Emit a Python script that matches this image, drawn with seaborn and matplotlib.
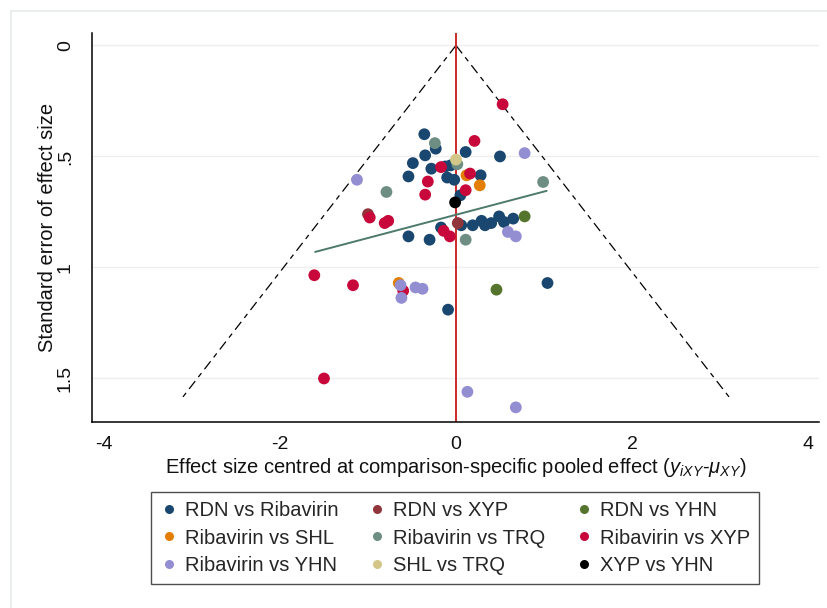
import numpy as np
import pandas as pd
import seaborn as sns
import matplotlib
matplotlib.use("Agg")
import matplotlib.pyplot as plt
from matplotlib.lines import Line2D

# ---------------- data ----------------
comparisons = ["RDN vs Ribavirin", "RDN vs XYP", "RDN vs YHN",
               "Ribavirin vs SHL", "Ribavirin vs TRQ", "Ribavirin vs XYP",
               "Ribavirin vs YHN", "SHL vs TRQ", "XYP vs YHN"]

colors = ["#1a476f", "#90353b", "#55752f", "#e37e00", "#6e8e84",
          "#c8073a", "#938dd2", "#d2c788", "#000000"]

rdn_rib_x = [-0.36, -0.23, -0.35, 0.11, 0.50, -0.49, -0.28, -0.12, -0.06, -0.54,
             -0.10, -0.02, 0.28, 0.05, -0.54, -0.30, -0.17, 0.06, 0.19, 0.29,
             0.33, 0.40, 0.49, 0.545, 0.65, -0.09, 1.04]
rdn_rib_y = [0.40, 0.465, 0.495, 0.48, 0.50, 0.53, 0.555, 0.545, 0.54, 0.59,
             0.595, 0.605, 0.585, 0.675, 0.86, 0.875, 0.82, 0.81, 0.81, 0.79,
             0.81, 0.80, 0.77, 0.795, 0.78, 1.19, 1.07]

rdn_xyp_x = [0.02, -1.0]
rdn_xyp_y = [0.80, 0.76]

rdn_yhn_x = [0.78, 0.46]
rdn_yhn_y = [0.77, 1.10]

rib_shl_x = [0.12, 0.27, -0.65]
rib_shl_y = [0.585, 0.63, 1.07]

rib_trq_x = [-0.24, 0.015, 0.99, -0.79, 0.11]
rib_trq_y = [0.44, 0.535, 0.615, 0.66, 0.875]

rib_xyp_x = [0.53, 0.21, -0.17, -0.32, 0.16, -0.35, 0.11, -0.98, -0.81, -0.77,
             -0.14, -0.07, -1.61, -1.17, -0.60, -1.50]
rib_xyp_y = [0.265, 0.43, 0.548, 0.613, 0.577, 0.672, 0.652, 0.775, 0.80, 0.79,
             0.835, 0.86, 1.035, 1.08, 1.105, 1.50]

rib_yhn_x = [0.78, -1.125, 0.59, 0.68, -0.63, -0.62, -0.46, -0.38, 0.13, 0.68]
rib_yhn_y = [0.485, 0.605, 0.84, 0.86, 1.08, 1.137, 1.09, 1.096, 1.56, 1.63]

shl_trq_x = [0.0]
shl_trq_y = [0.514]

xyp_yhn_x = [-0.01]
xyp_yhn_y = [0.707]

# fitted line endpoints
reg_x = [-1.60, 1.03]
reg_y = [0.93, 0.655]

# funnel (pseudo 95% limits)
se_max = 1.6
z_crit = 1.96

xticks = [-4, -2, 0, 2, 4]
yticks = [0, 0.5, 1, 1.5]
ytick_labels = ["0", ".5", "1", "1.5"]

# ---------------- build frame ----------------
xs = [rdn_rib_x, rdn_xyp_x, rdn_yhn_x, rib_shl_x, rib_trq_x, rib_xyp_x,
      rib_yhn_x, shl_trq_x, xyp_yhn_x]
ys = [rdn_rib_y, rdn_xyp_y, rdn_yhn_y, rib_shl_y, rib_trq_y, rib_xyp_y,
      rib_yhn_y, shl_trq_y, xyp_yhn_y]
rows = []
for name, xv, yv in zip(comparisons, xs, ys):
    for a, b in zip(xv, yv):
        rows.append((name, a, b))
df = pd.DataFrame(rows, columns=["comparison", "effect", "se"])
palette = dict(zip(comparisons, colors))

sns.set_style("white")
plt.rcParams["font.family"] = ["Liberation Sans", "DejaVu Sans"]
plt.rcParams["mathtext.fontset"] = "custom"
plt.rcParams["mathtext.rm"] = "Liberation Sans"
plt.rcParams["mathtext.it"] = "Liberation Sans:italic"

fig = plt.figure(figsize=(8.27, 6.08), dpi=100)
W, H = 827, 608
ax = fig.add_axes([92 / W, 1 - 422 / H, (819 - 92) / W, (422 - 33) / H])

# gridlines
for yt in yticks:
    ax.axhline(yt, color="#eeeeee", lw=1.0, zorder=0)

# funnel lines
ax.plot([0, -z_crit * se_max], [0, se_max], color="black", lw=0.9,
        dashes=(8, 4, 4, 4), zorder=1)
ax.plot([0, z_crit * se_max], [0, se_max], color="black", lw=0.9,
        dashes=(8, 4, 4, 4), zorder=1)

# null line
ax.axvline(0, color="#cc2a2a", lw=1.4, zorder=1)

# regression line
ax.plot(reg_x, reg_y, color="#4d7a6a", lw=1.4, zorder=1)

sns.scatterplot(data=df, x="effect", y="se", hue="comparison",
                hue_order=comparisons, palette=palette, s=72,
                linewidth=0, legend=False, ax=ax, zorder=3)

ax.set_xlim(-4.136, 4.125)
ax.set_ylim(1.696, -0.056)
ax.set_xticks(xticks)
ax.set_xticklabels([str(t) for t in xticks])
ax.set_yticks(yticks)
ax.set_yticklabels(ytick_labels)
for lab in ax.get_yticklabels():
    lab.set_rotation(90)
    lab.set_va("center")
ax.tick_params(axis="both", direction="out", length=5, width=1.0,
               color="black", labelsize=14, labelcolor="#111111")
ax.tick_params(axis="x", pad=5)
ax.tick_params(axis="y", pad=8)

for side in ["top", "right"]:
    ax.spines[side].set_visible(False)
for side in ["left", "bottom"]:
    ax.spines[side].set_color("black")
    ax.spines[side].set_linewidth(1.1)

ax.set_xlabel("Effect size centred at comparison-specific pooled effect "
              "($y_{iXY}$-$\\mu_{XY}$)", fontsize=14.5, color="#111111",
              labelpad=2)
ax.set_ylabel("Standard error of effect size", fontsize=14.5,
              color="#111111", labelpad=0)

# legend in row-major order
handles = [Line2D([], [], marker="o", linestyle="", markersize=6.5,
                  markerfacecolor=c, markeredgewidth=0, label=n)
           for n, c in zip(comparisons, colors)]
order = [0, 3, 6, 1, 4, 7, 2, 5, 8]
leg = fig.legend([handles[i] for i in order], [comparisons[i] for i in order],
                 ncol=3, loc="center", bbox_to_anchor=(455 / W, 1 - 538 / H),
                 frameon=True, fancybox=False, fontsize=14.5,
                 handletextpad=0.35, columnspacing=1.45, handlelength=0.9,
                 labelspacing=0.4, borderpad=0.45)
leg.get_frame().set_edgecolor("#222222")
leg.get_frame().set_linewidth(1.0)

# outer light frame
fig.add_artist(Line2D([11 / W, 1.0], [1 - 11 / H, 1 - 11 / H],
                      color="#e6ebeb", lw=1.2, transform=fig.transFigure))
fig.add_artist(Line2D([11 / W, 11 / W], [0, 1 - 11 / H],
                      color="#e6ebeb", lw=1.2, transform=fig.transFigure))

fig.savefig("out.png", dpi=100)
